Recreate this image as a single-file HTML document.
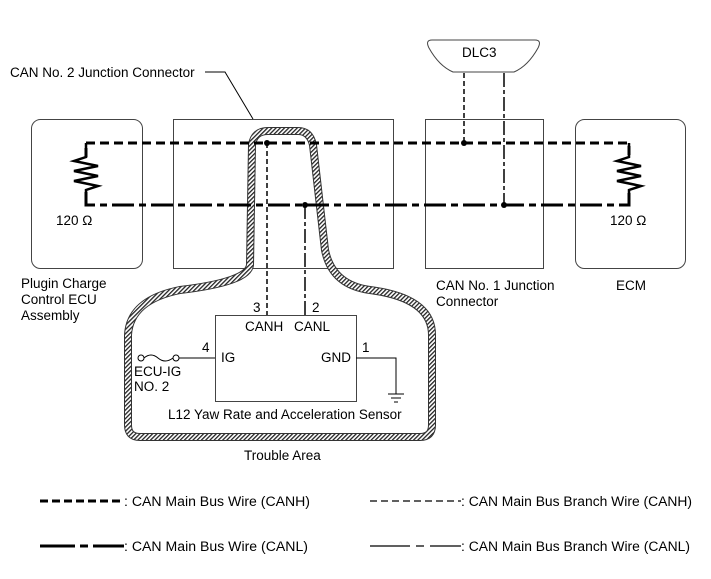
<!DOCTYPE html>
<html><head><meta charset="utf-8"><style>
html,body{margin:0;padding:0;background:#fff}
svg{display:block;font-family:"Liberation Sans",Arial,sans-serif;font-size:13.5px}
</style></head><body>
<svg width="711" height="579" viewBox="0 0 711 579" xmlns="http://www.w3.org/2000/svg">
<defs>
<pattern id="h" width="3" height="3" patternUnits="userSpaceOnUse" patternTransform="rotate(45)">
<rect width="3" height="3" fill="#fff"/><rect width="1.3" height="3" fill="#222"/>
</pattern>
</defs>
<rect x="31.5" y="119.5" width="111" height="149" rx="9" fill="none" stroke="#444" stroke-width="1"/>
<rect x="173.5" y="119.5" width="220" height="149" fill="none" stroke="#444" stroke-width="1"/>
<rect x="425.5" y="119.5" width="118" height="149" fill="none" stroke="#444" stroke-width="1"/>
<rect x="575.5" y="119.5" width="110" height="149" rx="9" fill="none" stroke="#444" stroke-width="1"/>
<path d="M432,40 L535,40 Q542,40 538,48 Q528,66 514,72 L453,72 Q439,66 429,48 Q425,40 432,40 Z" fill="#fff" stroke="#444"/>
<text x="462" y="57">DLC3</text>
<text x="10" y="77">CAN No. 2 Junction Connector</text>
<path d="M205,72 L225,72 L253,119" fill="none" stroke="#000" stroke-width="1"/>
<path d="M250,265 L252,145 Q254,131 268,131 L298,131 Q310,131 313,145 L325,250 Q332,285 370,290 Q432,298 432,335 L432,425 Q432,437 420,437 L140,437 Q128,437 128,425 L128,335 Q130,300 180,290 Q248,282 250,265 Z" fill="none" stroke="#333" stroke-width="8"/>
<path d="M250,265 L252,145 Q254,131 268,131 L298,131 Q310,131 313,145 L325,250 Q332,285 370,290 Q432,298 432,335 L432,425 Q432,437 420,437 L140,437 Q128,437 128,425 L128,335 Q130,300 180,290 Q248,282 250,265 Z" fill="none" stroke="url(#h)" stroke-width="6"/>
<path d="M86,157 L86,143 L629,143 L629,157" fill="none" stroke="#000" stroke-width="3" stroke-dasharray="9,5"/>
<path d="M86,192 L86,205 L629,205 L629,192" fill="none" stroke="#000" stroke-width="3" stroke-dasharray="22,5,7,5"/>
<path d="M86,143 L86,157 L74,161 L98,166 L74,171 L98,176 L74,181 L98,186 L86,190 L86,205" fill="none" stroke="#000" stroke-width="2.5"/>
<path d="M629,143 L629,157 L617,161 L641,166 L617,171 L641,176 L617,181 L641,186 L629,190 L629,205" fill="none" stroke="#000" stroke-width="2.5"/>
<text x="56" y="225">120 Ω</text>
<text x="610" y="225">120 Ω</text>
<line x1="267" y1="143" x2="267" y2="315" stroke="#000" stroke-width="1.5" stroke-dasharray="5,3"/>
<line x1="305" y1="205" x2="305" y2="315" stroke="#000" stroke-width="1.5" stroke-dasharray="14,3,4,3"/>
<line x1="464" y1="73" x2="464" y2="143" stroke="#000" stroke-width="1.5" stroke-dasharray="5,3"/>
<line x1="504" y1="73" x2="504" y2="205" stroke="#000" stroke-width="1.5" stroke-dasharray="14,3,4,3"/>
<circle cx="267" cy="143" r="3" fill="#000"/>
<circle cx="305" cy="205" r="3" fill="#000"/>
<circle cx="464" cy="143" r="3" fill="#000"/>
<circle cx="504" cy="205" r="3" fill="#000"/>
<text x="21" y="288">Plugin Charge</text>
<text x="21" y="304">Control ECU</text>
<text x="21" y="320">Assembly</text>
<text x="436" y="290">CAN No. 1 Junction</text>
<text x="436" y="306">Connector</text>
<text x="616" y="290">ECM</text>
<rect x="215.5" y="315.5" width="141" height="86" fill="#fff" stroke="#444"/>
<text x="253" y="312">3</text>
<text x="312" y="312">2</text>
<text x="245" y="331">CANH</text>
<text x="294" y="331">CANL</text>
<text x="221" y="362">IG</text>
<text x="321" y="362">GND</text>
<text x="202" y="352">4</text>
<text x="362" y="352">1</text>
<line x1="179" y1="358" x2="215" y2="358" stroke="#000"/>
<circle cx="141" cy="358" r="3" fill="#fff" stroke="#000"/>
<circle cx="176" cy="358" r="3" fill="#fff" stroke="#000"/>
<path d="M144,358 Q151,352 158,358 Q165,364 173,358" fill="none" stroke="#000"/>
<text x="134" y="376">ECU-IG</text>
<text x="134" y="391">NO. 2</text>
<path d="M356,358 L396,358 L396,394" fill="none" stroke="#000"/>
<line x1="388" y1="394" x2="404" y2="394" stroke="#000"/>
<line x1="391" y1="398" x2="401" y2="398" stroke="#000"/>
<line x1="394" y1="402" x2="398" y2="402" stroke="#000"/>
<text x="168" y="419">L12 Yaw Rate and Acceleration Sensor</text>
<text x="244" y="460">Trouble Area</text>
<line x1="40" y1="501" x2="124" y2="501" stroke="#000" stroke-width="3" stroke-dasharray="8,4"/>
<text x="124" y="506" textLength="186" lengthAdjust="spacingAndGlyphs">: CAN Main Bus Wire (CANH)</text>
<path d="M40,546 H75 M80,546 H88 M93,546 H124" stroke="#000" stroke-width="3"/>
<text x="124" y="551" textLength="184" lengthAdjust="spacingAndGlyphs">: CAN Main Bus Wire (CANL)</text>
<line x1="370" y1="501" x2="461" y2="501" stroke="#000" stroke-width="1.3" stroke-dasharray="7,4"/>
<text x="461" y="506" textLength="231" lengthAdjust="spacingAndGlyphs">: CAN Main Bus Branch Wire (CANH)</text>
<path d="M370,546 H410 M416,546 H424 M430,546 H461" stroke="#000" stroke-width="1.3"/>
<text x="461" y="551" textLength="229" lengthAdjust="spacingAndGlyphs">: CAN Main Bus Branch Wire (CANL)</text>
</svg>
</body></html>
